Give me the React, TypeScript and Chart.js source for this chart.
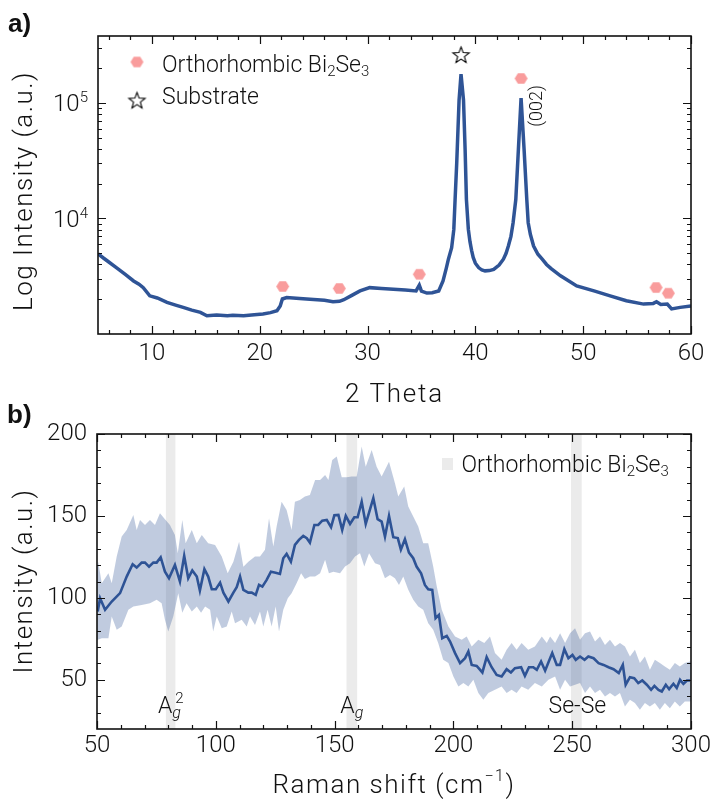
import React, { useEffect, useRef } from 'react';
import { Chart, registerables } from 'chart.js';

Chart.register(...registerables);

const FAMILY = 'Roboto, "DejaVu Sans", sans-serif';
const BOLD_FAMILY = '"Liberation Sans", Arial, sans-serif';
const TEXT_WEIGHT = '300';
const LINE_BLUE = '#2f5496';
const FILL_BLUE = 'rgba(47,84,150,0.30)';
const HEX_PINK = '#f99c9c';
const BAND_GREY = '#ebebeb';

// ---------------- XRD (panel a) ----------------
const xrdTheta = [5.0, 5.5, 6.0, 6.7, 7.5, 8.3, 8.8, 9.2, 9.8, 10.5, 11.4, 12.2, 12.9, 13.7, 14.5, 15.1, 16.0, 17.0, 17.5, 18.5, 19.5, 20.3, 21.0, 21.6, 21.9, 22.1, 22.5, 23.7, 25.0, 26.0, 26.8, 27.4, 27.8, 28.5, 29.3, 30.2, 31.3, 32.4, 33.5, 34.5, 34.8, 35.0, 35.5, 36.0, 36.6, 37.0, 37.3, 37.5, 37.8, 38.0, 38.12, 38.27, 38.49, 38.67, 38.9, 39.05, 39.17, 39.35, 39.5, 39.65, 39.8, 40.0, 40.3, 40.6, 40.9, 41.3, 41.7, 42.2, 42.6, 42.85, 43.06, 43.3, 43.5, 43.75, 43.99, 44.24, 44.52, 44.77, 44.9, 45.1, 45.4, 45.8, 46.2, 46.6, 47.0, 47.9, 49.4, 51.0, 52.5, 54.0, 55.6, 56.5, 56.8, 57.2, 57.8, 58.2, 59.0, 60.0];
const xrdCounts = [4950, 4550, 4200, 3760, 3300, 2880, 2700, 2520, 2140, 2050, 1880, 1780, 1700, 1610, 1540, 1440, 1460, 1440, 1450, 1440, 1470, 1490, 1530, 1590, 1750, 2010, 2070, 2030, 1990, 1960, 1900, 1920, 1980, 2150, 2360, 2520, 2480, 2440, 2400, 2360, 2650, 2350, 2260, 2280, 2360, 2880, 3700, 4440, 5590, 8000, 14600, 30000, 106000, 178000, 106000, 39400, 14600, 8040, 6300, 5300, 4600, 4100, 3760, 3580, 3520, 3540, 3630, 3950, 4440, 5000, 5770, 7000, 9190, 14600, 39400, 110000, 39400, 14600, 9190, 7300, 5770, 4900, 4440, 4000, 3700, 3190, 2610, 2360, 2140, 1940, 1815, 1840, 1900, 1800, 1815, 1650, 1700, 1750];
const bi2se3PeakTheta = [22.13, 27.38, 34.8, 44.24, 56.76, 57.9];
const bi2se3PeakCounts = [2578, 2478, 3288, 163000, 2524, 2254];
const substratePeakTheta = [38.67];
const substratePeakCounts = [263000];
const xrdXTicks = [10, 20, 30, 40, 50, 60];
const xrdYDecades = [10000, 100000];
const xrdYExponents = ['4', '5'];
const xrdLegend = ['Orthorhombic Bi', '2', 'Se', '3'];
const xrdLegend2 = 'Substrate';
const xrdXTitle = '2 Theta';
const xrdYTitle = 'Log Intensity (a.u.)';
const xrdPeakLabel = '(002)';

// ---------------- Raman (panel b) ----------------
const ramanShift = [50.3, 51.3, 53.4, 56.2, 59.7, 62.5, 65.0, 66.7, 68.8, 70.2, 71.9, 73.7, 75.1, 76.8, 78.6, 80.3, 82.8, 84.9, 86.7, 88.4, 90.1, 92.0, 93.3, 95.2, 96.8, 98.3, 100.0, 101.8, 103.2, 105.3, 107.4, 108.8, 110.2, 111.6, 113.7, 115.1, 116.8, 118.2, 119.6, 121.4, 123.2, 125.2, 127.0, 128.4, 129.8, 131.6, 133.3, 135.0, 136.8, 138.3, 139.6, 141.5, 143.1, 144.8, 146.7, 148.5, 149.9, 151.6, 153.2, 154.7, 156.5, 158.3, 159.7, 161.4, 163.1, 166.3, 168.1, 169.8, 171.2, 172.9, 174.7, 176.6, 177.9, 179.6, 181.3, 183.1, 184.5, 186.4, 188.0, 189.4, 191.1, 192.5, 193.9, 195.3, 197.2, 198.6, 200.7, 202.8, 204.9, 206.3, 207.7, 209.8, 212.2, 214.0, 216.1, 218.2, 220.3, 222.4, 224.2, 225.9, 228.5, 230.1, 231.8, 233.6, 235.1, 236.9, 238.6, 240.1, 241.6, 243.5, 244.9, 246.7, 248.4, 250.1, 251.5, 253.3, 255.2, 256.8, 259.0, 261.1, 263.2, 265.3, 267.4, 269.6, 271.3, 272.5, 274.3, 276.1, 277.8, 279.5, 281.4, 283.2, 284.6, 286.3, 287.7, 289.4, 290.8, 292.6, 294.0, 295.4, 296.8, 298.3, 299.6];
const ramanMean = [91.7, 99.8, 92.7, 97.8, 102.9, 113, 120.5, 118.5, 121.5, 121.5, 119.1, 121.5, 121.5, 124.8, 116, 112, 120.1, 110, 125.6, 112, 116.7, 113, 104.5, 117.5, 113, 105.3, 105.3, 109.3, 103.2, 97.8, 103.2, 106.5, 113, 104.9, 103.2, 103.2, 101.8, 107.9, 106.9, 111, 116, 115.4, 114.6, 124.2, 126.8, 122.1, 132.3, 135.4, 137.8, 136.4, 133.7, 144.5, 144.5, 147.1, 147.6, 143.1, 150.4, 150.6, 141.5, 150, 145.1, 149.2, 149.2, 158.7, 145.1, 160.8, 148, 146.5, 137.4, 150, 137, 136.5, 129.5, 135.8, 127.6, 124.2, 119.1, 115, 107.9, 105.3, 104.9, 87.6, 89.6, 75.4, 76.8, 73.4, 66.3, 60.2, 63.2, 67.3, 59.1, 58.5, 54.5, 63.8, 57.7, 53, 52, 56.5, 54.5, 57.1, 57.7, 52.4, 57.7, 57.7, 56.1, 61.2, 55.6, 61, 66.3, 59.1, 59.1, 68.7, 63.2, 65.2, 62.2, 64.2, 62.2, 64.2, 63.2, 60.2, 59.1, 57.7, 56.5, 54.1, 59.1, 47, 51.6, 51, 48, 49.6, 47, 43.9, 46.3, 43.9, 42.9, 47, 44.3, 47.6, 45, 50, 47.6, 49.6, 49.6];
const ramanUpperShift = [50.0, 50.5, 52.0, 54.8, 56.2, 58.3, 60.4, 62.5, 65.3, 66.7, 68.1, 70.2, 72.3, 74.4, 76.5, 78.6, 80.7, 82.8, 84.0, 85.9, 87.3, 89.9, 92.0, 94.1, 96.8, 99.7, 102.5, 105.0, 107.4, 109.8, 111.6, 113.7, 116.5, 118.6, 120.7, 122.4, 124.2, 125.6, 127.7, 129.8, 131.9, 133.3, 135.4, 137.5, 139.6, 141.8, 143.9, 146.0, 147.4, 149.0, 150.9, 153.0, 155.1, 157.2, 159.3, 161.4, 163.1, 165.6, 167.7, 169.8, 172.9, 175.4, 176.8, 179.3, 181.0, 183.1, 185.2, 187.3, 189.4, 191.5, 193.0, 195.1, 197.9, 200.7, 203.5, 205.6, 207.7, 210.5, 213.0, 215.4, 217.5, 220.3, 222.4, 224.5, 226.6, 228.7, 231.5, 234.3, 237.2, 239.3, 240.7, 242.8, 244.9, 247.0, 249.1, 251.2, 253.3, 255.4, 257.5, 259.6, 261.7, 263.8, 265.9, 268.0, 270.1, 272.2, 274.3, 276.4, 278.5, 280.6, 282.7, 284.8, 286.9, 289.0, 291.1, 293.2, 295.3, 297.4, 299.6, 300.0];
const ramanUpper = [116, 122.1, 109, 115, 109, 125.2, 137.4, 141.5, 150.6, 141.5, 147.6, 144.5, 147.6, 144.5, 151.6, 148, 144.5, 138.4, 127.2, 147.6, 133.4, 141.5, 133.4, 138.4, 133.4, 132.3, 125.2, 115, 122.1, 134.3, 119, 122.1, 125.2, 125.2, 129.3, 148.6, 131.3, 143.5, 158.7, 153.7, 141.5, 158.7, 159.8, 161.8, 162.8, 172, 172, 175, 172, 184.1, 186.2, 173.6, 173.6, 174, 174, 192.3, 180, 190.2, 180, 174, 183.1, 170, 161.8, 167.9, 155.7, 149.6, 143.5, 133.4, 133.4, 119.1, 106.9, 92.7, 82.5, 76.4, 74.4, 76.4, 70.3, 74.4, 72.4, 76.4, 66.3, 62.2, 68.3, 72.4, 68.3, 72.4, 68.3, 70.3, 76.4, 72.4, 76.4, 72.4, 78.4, 72.4, 78.4, 81.5, 74.4, 78.4, 79.5, 73.4, 76.4, 71.3, 74.4, 70.3, 72.4, 70.3, 64.2, 68.3, 60.2, 64.2, 56.1, 62.2, 60.2, 58.1, 56.1, 60.2, 58.1, 60.2, 61.2, 61];
const ramanLowerShift = [50.0, 50.3, 52.0, 54.8, 56.2, 58.3, 60.4, 63.2, 65.3, 68.8, 72.3, 75.1, 77.2, 78.6, 80.0, 82.1, 84.2, 85.9, 87.7, 89.9, 92.0, 93.8, 95.5, 97.6, 98.9, 100.4, 102.5, 104.6, 106.7, 108.1, 110.9, 113.0, 114.4, 116.5, 118.6, 120.0, 121.8, 123.5, 125.2, 126.6, 128.4, 130.3, 131.9, 134.0, 135.9, 137.5, 139.6, 141.8, 143.9, 146.0, 147.6, 149.5, 152.3, 154.4, 156.5, 158.6, 160.7, 162.5, 164.5, 167.0, 169.1, 171.2, 173.3, 175.4, 177.1, 178.9, 181.0, 183.1, 185.2, 187.3, 189.4, 191.5, 193.6, 195.7, 197.9, 200.0, 202.1, 204.2, 206.3, 208.4, 210.5, 212.6, 214.7, 217.5, 220.3, 222.4, 224.5, 226.6, 228.7, 231.5, 234.3, 237.2, 240.0, 242.8, 244.9, 247.0, 249.1, 251.2, 253.3, 255.4, 257.5, 259.6, 261.7, 263.8, 265.9, 268.0, 270.1, 272.2, 274.3, 276.4, 278.5, 280.6, 282.7, 284.8, 286.9, 289.0, 291.1, 293.2, 295.3, 297.4, 299.6, 300.0];
const ramanLower = [74, 74.4, 75.4, 75.4, 88.6, 80.5, 82.5, 92.7, 94.7, 95.7, 96.7, 98.8, 96.7, 86.6, 79.5, 88.6, 102.9, 91, 96.7, 91.7, 94.7, 91, 94.7, 92.7, 79.5, 88.6, 81.5, 82.5, 91.7, 84.5, 86.6, 82.5, 88.6, 83.5, 91.7, 82.5, 92.7, 82.5, 94.7, 79.5, 92.7, 99.8, 102.9, 109, 115, 111.6, 113, 113, 115, 123.2, 115, 116, 115, 119.1, 121.1, 125.2, 127.2, 119.1, 127.2, 121.1, 120.1, 112, 114, 112, 107.9, 113, 104.9, 98.8, 94.7, 92.7, 84.5, 80.5, 72.4, 62.2, 60.2, 52, 45.9, 48, 45.9, 50, 41.9, 37.8, 41.9, 43.9, 45.9, 41.9, 43.9, 41.9, 45.9, 43.9, 48, 45.9, 50, 52, 43.9, 50, 45.9, 47, 48, 41.9, 45.9, 41.9, 43.9, 39.8, 41.9, 39.8, 41.9, 33.7, 37.8, 35.8, 31.7, 35.8, 33.7, 35.8, 31.7, 35.8, 32.7, 36.8, 33.7, 36.8, 36.8, 37];
const ramanBandStart = [79, 155, 249.5];
const ramanBandEnd = [83, 159.5, 254];
const ramanXTicks = [50, 100, 150, 200, 250, 300];
const ramanYTicks = [50, 100, 150, 200];
const ramanLegend = ['Orthorhombic Bi', '2', 'Se', '3'];
const ramanXTitle = ['Raman shift (cm', '\u22121', ')'];
const ramanYTitle = 'Intensity (a.u.)';
const ramanModeLabels = ['A', 'A', 'Se-Se'];

type Seg = { t: string; size: number; dy?: number; italic?: boolean; weight?: string; family?: string };

function fontStr(s: Seg) {
  return `${s.italic ? 'italic ' : ''}${s.weight || TEXT_WEIGHT} ${s.size}px ${s.family || FAMILY}`;
}

function drawRich(ctx: CanvasRenderingContext2D, segs: Seg[], x: number, y: number, align = 'left', spacing = 0, baseline: CanvasTextBaseline = 'alphabetic') {
  ctx.save();
  (ctx as any).letterSpacing = `${spacing}px`;
  ctx.textBaseline = baseline;
  ctx.textAlign = 'left';
  ctx.fillStyle = '#111';
  const ws = segs.map((s) => {
    ctx.font = fontStr(s);
    return ctx.measureText(s.t).width;
  });
  const total = ws.reduce((a, b) => a + b, 0);
  let cx = align === 'left' ? x : align === 'center' ? x - total / 2 : x - total;
  segs.forEach((s, i) => {
    ctx.font = fontStr(s);
    ctx.fillText(s.t, cx, y + (s.dy || 0));
    cx += ws[i];
  });
  ctx.restore();
  return total;
}

function drawRotated(ctx: CanvasRenderingContext2D, segs: Seg[], x: number, y: number, spacing = 0, baseline: CanvasTextBaseline = 'alphabetic') {
  ctx.save();
  ctx.translate(x, y);
  ctx.rotate(-Math.PI / 2);
  drawRich(ctx, segs, 0, 0, 'center', spacing, baseline);
  ctx.restore();
}

function drawFrame(chart: any, xMaj: number[], xMin: number[], yMaj: number[], yMin: number[]) {
  const { ctx, chartArea: a } = chart;
  const xs = chart.scales.x;
  const ys = chart.scales.y;
  ctx.save();
  ctx.strokeStyle = '#111';
  ctx.lineWidth = 1.2;
  ctx.beginPath();
  const vx = (v: number, len: number) => {
    const p = Math.round(xs.getPixelForValue(v)) + 0.5;
    ctx.moveTo(p, a.bottom);
    ctx.lineTo(p, a.bottom - len);
    ctx.moveTo(p, a.top);
    ctx.lineTo(p, a.top + len);
  };
  const vy = (v: number, len: number) => {
    const p = Math.round(ys.getPixelForValue(v)) + 0.5;
    ctx.moveTo(a.left, p);
    ctx.lineTo(a.left + len, p);
    ctx.moveTo(a.right, p);
    ctx.lineTo(a.right - len, p);
  };
  xMaj.forEach((v) => vx(v, 8));
  xMin.forEach((v) => vx(v, 4));
  yMaj.forEach((v) => vy(v, 8));
  yMin.forEach((v) => vy(v, 4));
  ctx.stroke();
  ctx.lineWidth = 1.6;
  ctx.strokeRect(a.left, a.top, a.right - a.left, a.bottom - a.top);
  ctx.restore();
}

function makeHexagon(r: number, color: string) {
  const s = Math.ceil(2 * r + 2);
  const c = document.createElement('canvas');
  c.width = s;
  c.height = s;
  const g = c.getContext('2d')!;
  g.fillStyle = color;
  g.beginPath();
  for (let i = 0; i < 6; i++) {
    const ang = (Math.PI / 3) * i;
    const px = s / 2 + r * Math.cos(ang);
    const py = s / 2 + r * 0.92 * Math.sin(ang);
    if (i === 0) g.moveTo(px, py);
    else g.lineTo(px, py);
  }
  g.closePath();
  g.fill();
  return c;
}

function makeStar(ro: number, ri: number) {
  const s = Math.ceil(2 * ro + 4);
  const c = document.createElement('canvas');
  c.width = s;
  c.height = s;
  const g = c.getContext('2d')!;
  g.beginPath();
  for (let i = 0; i < 10; i++) {
    const rr = i % 2 === 0 ? ro : ri;
    const ang = -Math.PI / 2 + (Math.PI / 5) * i;
    const px = s / 2 + rr * Math.cos(ang);
    const py = s / 2 + 1 + rr * Math.sin(ang);
    if (i === 0) g.moveTo(px, py);
    else g.lineTo(px, py);
  }
  g.closePath();
  g.fillStyle = '#fff';
  g.fill();
  g.strokeStyle = '#000';
  g.lineWidth = 1.1;
  g.stroke();
  return c;
}

export default function App() {
  const topRef = useRef<HTMLCanvasElement>(null);
  const botRef = useRef<HTMLCanvasElement>(null);

  useEffect(() => {
    const hex = makeHexagon(6.5, HEX_PINK);
    const star = makeStar(8.5, 3.6);

    const xrdXMinor: number[] = [];
    for (let v = 6; v < 60; v += 2) if (v % 10 !== 0) xrdXMinor.push(v);
    const xrdYMinor: number[] = [];
    [1000, 10000, 100000].forEach((d) => {
      for (let m = 2; m <= 9; m++) if (m * d <= 380000) xrdYMinor.push(m * d);
    });
    const ramanXMinor: number[] = [];
    for (let v = 60; v < 300; v += 10) if (v % 50 !== 0) ramanXMinor.push(v);
    const ramanYMinor: number[] = [];
    for (let v = 30; v < 200; v += 10) if (v % 50 !== 0) ramanYMinor.push(v);

    const tickFont = { family: FAMILY, size: 24, lineHeight: 1, weight: TEXT_WEIGHT };

    const topDecor = {
      id: 'topDecor',
      afterDraw(chart: any) {
        const { ctx, chartArea: a } = chart;
        const ys = chart.scales.y;
        const xs = chart.scales.x;
        drawFrame(chart, xrdXTicks, xrdXMinor, xrdYDecades, xrdYMinor);
        xrdYDecades.forEach((v, i) => {
          const p = ys.getPixelForValue(v);
          drawRich(ctx, [{ t: '10', size: 24 }, { t: xrdYExponents[i], size: 15, dy: -9 }], a.left - 10, p + 8.5, 'right');
        });
        drawRich(ctx, [{ t: xrdXTitle, size: 26 }], (a.left + a.right) / 2, 402, 'center', 1.8);
        drawRotated(ctx, [{ t: xrdYTitle, size: 26 }], 32, 191, 1.5);
        ctx.drawImage(hex, 137 - hex.width / 2, 62 - hex.height / 2);
        drawRich(ctx, [
          { t: xrdLegend[0], size: 23 },
          { t: xrdLegend[1], size: 15, dy: 4 },
          { t: xrdLegend[2], size: 23 },
          { t: xrdLegend[3], size: 15, dy: 4 },
        ], 162, 71.5, 'left');
        ctx.drawImage(star, 137 - star.width / 2, 100 - star.height / 2);
        drawRich(ctx, [{ t: xrdLegend2, size: 23 }], 162, 103.5, 'left');
        drawRotated(ctx, [{ t: xrdPeakLabel, size: 18 }], xs.getPixelForValue(44.24) + 16, 106, 0, 'middle');
        drawRich(ctx, [{ t: 'a)', size: 26, weight: 'bold', family: BOLD_FAMILY }], 8, 32, 'left');
      },
    };

    const topChart = new Chart(topRef.current!, {
      type: 'line',
      data: {
        datasets: [
          {
            data: xrdTheta.map((x, i) => ({ x, y: xrdCounts[i] })),
            borderColor: LINE_BLUE,
            borderWidth: 3.5,
            pointRadius: 0,
            fill: false,
            tension: 0,
            order: 3,
          },
          {
            data: bi2se3PeakTheta.map((x, i) => ({ x, y: bi2se3PeakCounts[i] })),
            showLine: false,
            pointStyle: hex as any,
            pointRadius: 7,
            order: 1,
          },
          {
            data: substratePeakTheta.map((x, i) => ({ x, y: substratePeakCounts[i] })),
            showLine: false,
            pointStyle: star as any,
            pointRadius: 8,
            order: 0,
          },
        ],
      } as any,
      options: {
        responsive: false,
        animation: false,
        events: [],
        layout: { padding: { left: 0, right: 22, top: 36, bottom: 0 } },
        plugins: { legend: { display: false }, tooltip: { enabled: false } },
        scales: {
          x: {
            type: 'linear',
            min: 5,
            max: 60,
            grid: { display: false, drawTicks: false },
            border: { display: false },
            ticks: { font: tickFont, color: '#111', padding: 8, maxRotation: 0, autoSkip: false },
            afterBuildTicks: (ax: any) => {
              ax.ticks = xrdXTicks.map((v) => ({ value: v }));
            },
            afterFit: (ax: any) => {
              ax.height = 76;
              ax.paddingLeft = 0;
              ax.paddingRight = 0;
            },
          },
          y: {
            type: 'logarithmic',
            min: 1000,
            max: 380000,
            grid: { display: false, drawTicks: false },
            border: { display: false },
            ticks: { display: false },
            afterFit: (ax: any) => {
              ax.width = 98;
              ax.paddingTop = 0;
              ax.paddingBottom = 0;
            },
          },
        },
      } as any,
      plugins: [topDecor],
    });

    const botDecor = {
      id: 'botDecor',
      beforeDatasetsDraw(chart: any) {
        const { ctx, chartArea: a } = chart;
        const xs = chart.scales.x;
        ctx.save();
        ctx.fillStyle = BAND_GREY;
        ramanBandStart.forEach((s, i) => {
          const p0 = xs.getPixelForValue(s);
          const p1 = xs.getPixelForValue(ramanBandEnd[i]);
          ctx.fillRect(p0, a.top, p1 - p0, a.bottom - a.top);
        });
        ctx.restore();
      },
      afterDraw(chart: any) {
        const { ctx, chartArea: a } = chart;
        const xs = chart.scales.x;
        drawFrame(chart, ramanXTicks, ramanXMinor, ramanYTicks, ramanYMinor);
        ctx.save();
        ctx.fillStyle = BAND_GREY;
        ctx.fillRect(442, 58, 11, 12);
        ctx.restore();
        drawRich(ctx, [
          { t: ramanLegend[0], size: 23 },
          { t: ramanLegend[1], size: 15, dy: 4 },
          { t: ramanLegend[2], size: 23 },
          { t: ramanLegend[3], size: 15, dy: 4 },
        ], 461.5, 71.5, 'left');
        const c0 = xs.getPixelForValue((ramanBandStart[0] + ramanBandEnd[0]) / 2);
        const c1 = xs.getPixelForValue((ramanBandStart[1] + ramanBandEnd[1]) / 2);
        const c2 = xs.getPixelForValue((ramanBandStart[2] + ramanBandEnd[2]) / 2);
        const baseY = 313;
        ctx.save();
        ctx.font = fontStr({ t: 'A', size: 23 });
        const wA = ctx.measureText('A').width;
        ctx.restore();
        const startA2 = c0 - (wA + 11) / 2;
        drawRich(ctx, [{ t: ramanModeLabels[0], size: 23 }], startA2, baseY, 'left');
        drawRich(ctx, [{ t: 'g', size: 16, italic: true }], startA2 + wA, baseY + 5, 'left');
        drawRich(ctx, [{ t: '2', size: 15 }], startA2 + wA + 3, baseY - 10, 'left');
        drawRich(ctx, [{ t: ramanModeLabels[1], size: 23 }, { t: 'g', size: 16, italic: true, dy: 5 }], c1, baseY, 'center');
        drawRich(ctx, [{ t: ramanModeLabels[2], size: 23 }], c2 + 1, baseY, 'center');
        drawRich(ctx, [
          { t: ramanXTitle[0], size: 26 },
          { t: ramanXTitle[1], size: 16, dy: -12 },
          { t: ramanXTitle[2], size: 26 },
        ], (a.left + a.right) / 2, 393, 'center', 1.5);
        drawRotated(ctx, [{ t: ramanYTitle, size: 26 }], 32, 181, 1.5);
        drawRich(ctx, [{ t: 'b)', size: 26, weight: 'bold', family: BOLD_FAMILY }], 7, 23, 'left');
      },
    };

    const botChart = new Chart(botRef.current!, {
      type: 'line',
      data: {
        datasets: [
          {
            data: ramanLowerShift.map((x, i) => ({ x, y: ramanLower[i] })),
            borderColor: 'rgba(0,0,0,0)',
            borderWidth: 0,
            pointRadius: 0,
            fill: false,
            tension: 0,
          },
          {
            data: ramanUpperShift.map((x, i) => ({ x, y: ramanUpper[i] })),
            borderColor: 'rgba(0,0,0,0)',
            borderWidth: 0,
            pointRadius: 0,
            backgroundColor: FILL_BLUE,
            fill: '-1',
            tension: 0,
          },
          {
            data: ramanShift.map((x, i) => ({ x, y: ramanMean[i] })),
            borderColor: LINE_BLUE,
            borderWidth: 2.6,
            pointRadius: 0,
            fill: false,
            tension: 0,
          },
        ],
      } as any,
      options: {
        responsive: false,
        animation: false,
        events: [],
        layout: { padding: { left: 0, right: 22, top: 34, bottom: 0 } },
        plugins: { legend: { display: false }, tooltip: { enabled: false } },
        scales: {
          x: {
            type: 'linear',
            min: 50,
            max: 300,
            grid: { display: false, drawTicks: false },
            border: { display: false },
            ticks: { font: tickFont, color: '#111', padding: 5, maxRotation: 0, autoSkip: false },
            afterBuildTicks: (ax: any) => {
              ax.ticks = ramanXTicks.map((v) => ({ value: v }));
            },
            afterFit: (ax: any) => {
              ax.height = 70;
              ax.paddingLeft = 0;
              ax.paddingRight = 0;
            },
          },
          y: {
            type: 'linear',
            min: 20,
            max: 200,
            grid: { display: false, drawTicks: false },
            border: { display: false },
            ticks: { font: tickFont, color: '#111', padding: 10, autoSkip: false },
            afterBuildTicks: (ax: any) => {
              ax.ticks = ramanYTicks.map((v) => ({ value: v }));
            },
            afterFit: (ax: any) => {
              ax.width = 97;
              ax.paddingTop = 0;
              ax.paddingBottom = 0;
            },
          },
        },
      } as any,
      plugins: [botDecor],
    });

    return () => {
      topChart.destroy();
      botChart.destroy();
    };
  }, []);

  return (
    <div style={{ position: 'absolute', left: 0, top: 0, width: 713, height: 799, background: '#fff', overflow: 'hidden' }}>
      <canvas ref={topRef} width={713} height={410} style={{ position: 'absolute', left: 0, top: 0, width: 713, height: 410, display: 'block' }} />
      <canvas ref={botRef} width={713} height={399} style={{ position: 'absolute', left: 0, top: 400, width: 713, height: 399, display: 'block' }} />
    </div>
  );
}
